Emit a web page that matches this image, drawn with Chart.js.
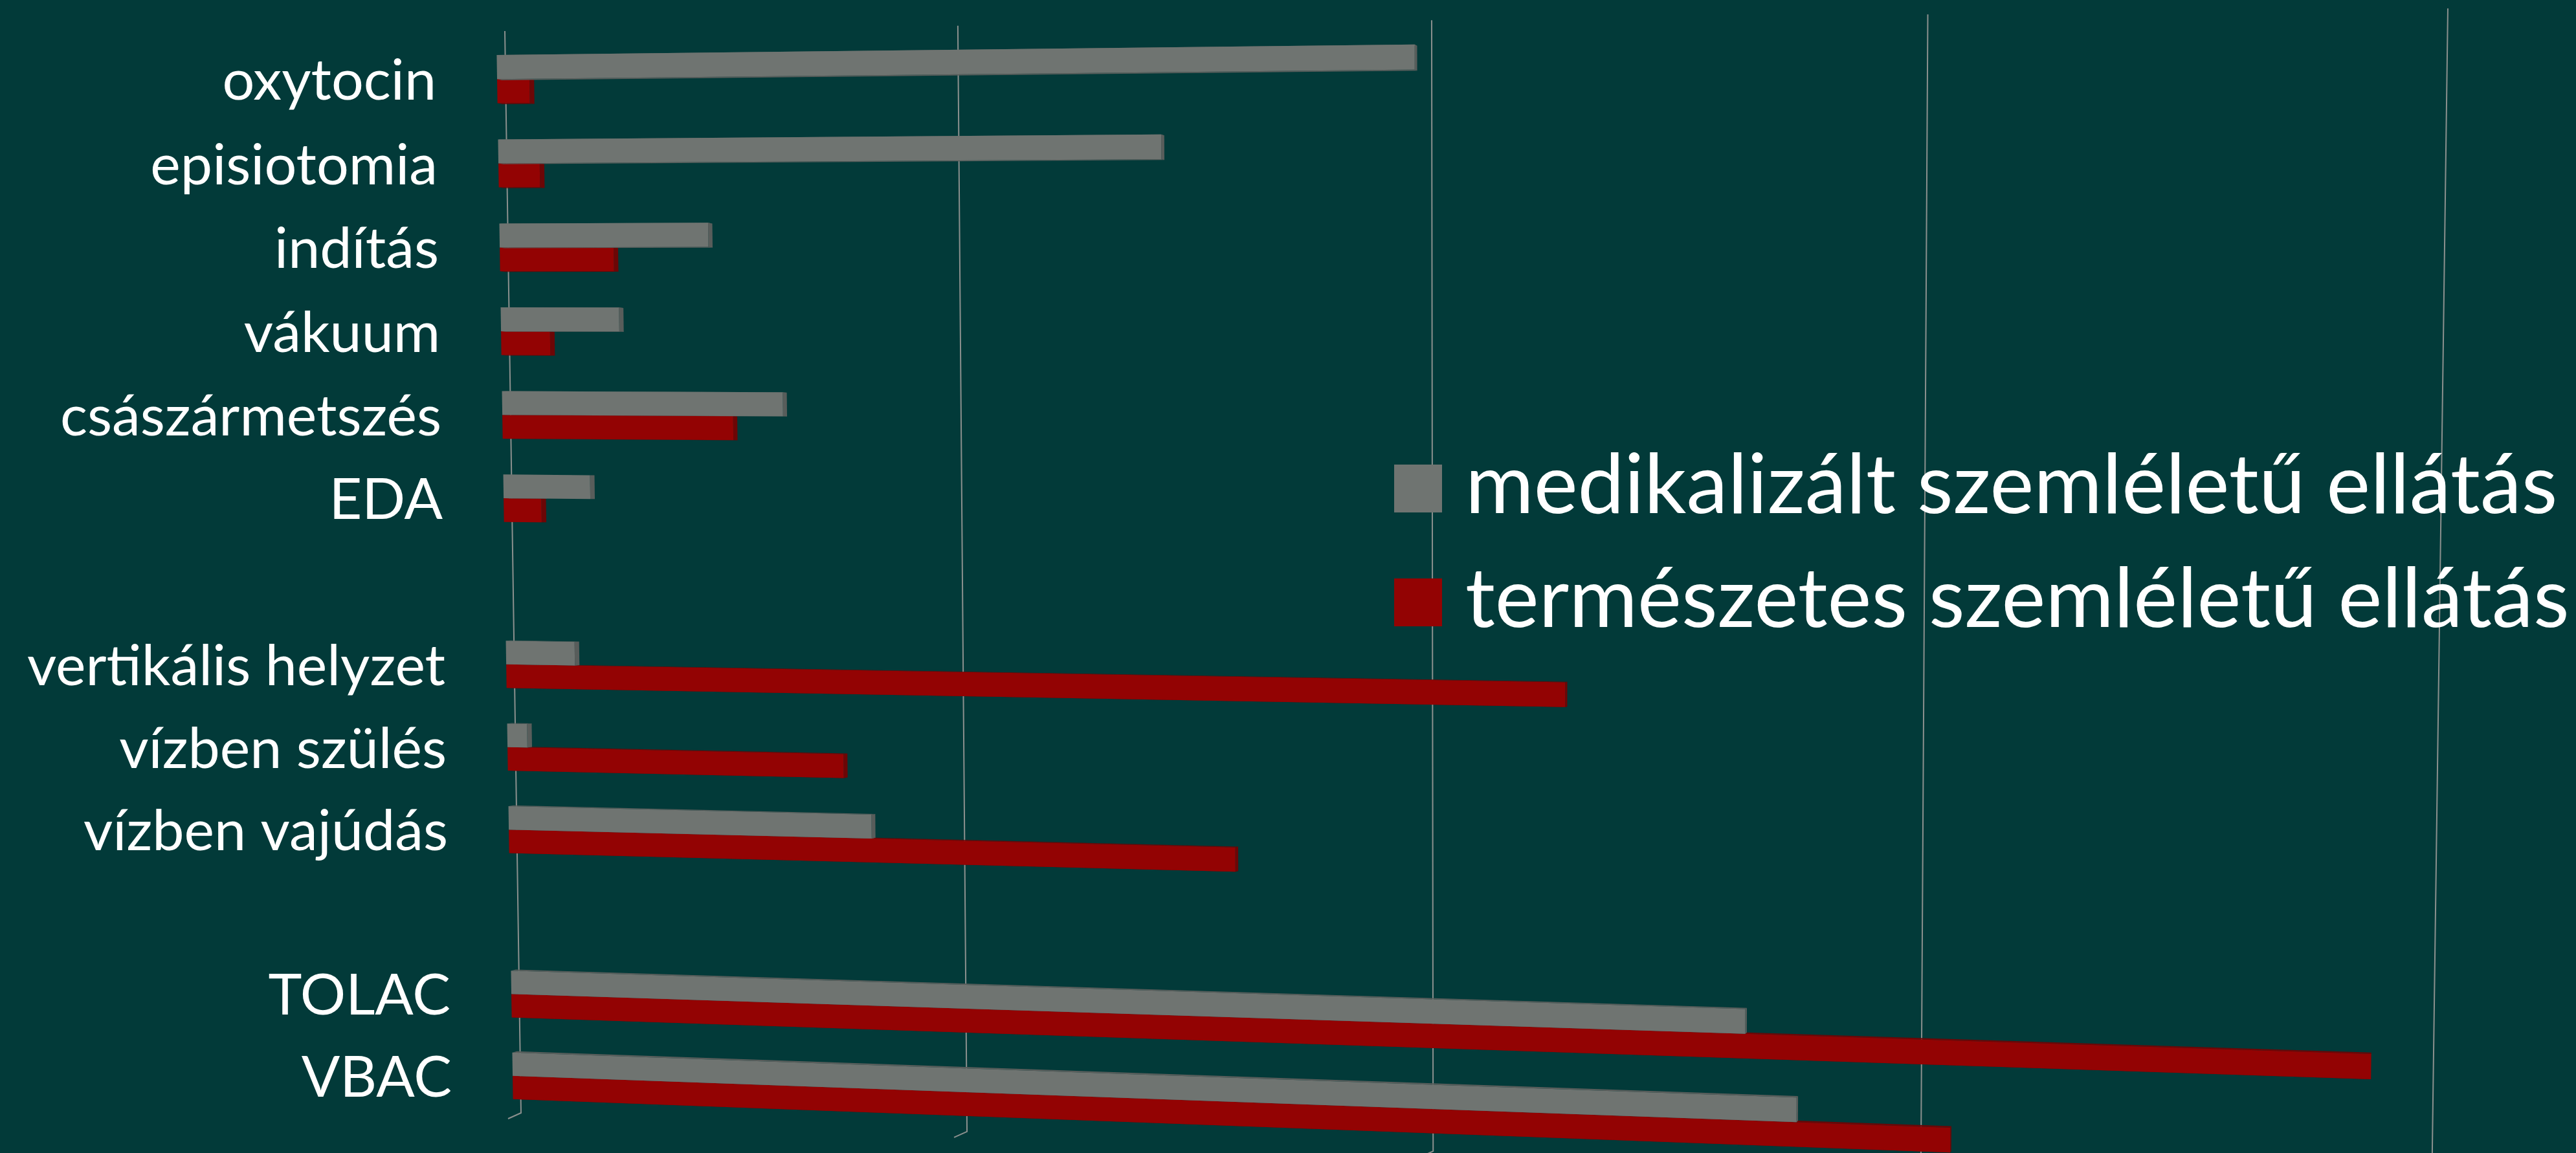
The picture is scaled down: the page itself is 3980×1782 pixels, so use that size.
<!DOCTYPE html>
<html lang="hu">
<head>
<meta charset="utf-8">
<title>Szemlélet és beavatkozások</title>
<script src="https://cdn.jsdelivr.net/npm/chart.js@4"></script>
<style>
    html, body { margin: 0; padding: 0; background: #023a39; overflow: hidden; }
    canvas { display: block; }
</style>
</head>
<body>
<canvas id="barChart" width="3980" height="1782"></canvas>
<script>
/*** Data ***/
const categories = ['oxytocin', 'episiotomia', 'indítás', 'vákuum', 'császármetszés', 'EDA', '',
    'vertikális helyzet', 'vízben szülés', 'vízben vajúdás', '', 'TOLAC', 'VBAC'];
const medikalizalt = [39.5, 28.9, 9.3, 5.3, 12.5, 3.9, null, 3.1, 0.9, 16.2, null, 53.1, 55.2];
const termeszetes = [1.45, 1.85, 5.1, 2.2, 10.3, 1.7, null, 45.7, 15, 31.9, null, 77.9, 61.4];
const seriesNames = ['medikalizált szemléletű ellátás', 'természetes szemléletű ellátás'];
const valueTicks = [0, 20, 40, 60, 80];

/*** Colors ***/
const grayColor = '#6f7471';
const grayDark = '#585d5b';
const redColor = '#930303';
const redDark = '#6c0606';
const gridColor = '#8b908e';
const fontFamily = "Lato, sans-serif";

// Maps the unit square onto a quad (perspective of the original 3D chart)
const quadMap = (p00, p10, p11, p01) => {
    const dx1 = p10[0] - p11[0], dx2 = p01[0] - p11[0], sx = p00[0] - p10[0] + p11[0] - p01[0];
    const dy1 = p10[1] - p11[1], dy2 = p01[1] - p11[1], sy = p00[1] - p10[1] + p11[1] - p01[1];
    const det = dx1 * dy2 - dx2 * dy1;
    const g = (sx * dy2 - dx2 * sy) / det;
    const h = (dx1 * sy - sx * dy1) / det;
    const a = p10[0] - p00[0] + g * p10[0], b = p01[0] - p00[0] + h * p01[0];
    const d = p10[1] - p00[1] + g * p10[1], e = p01[1] - p00[1] + h * p01[1];
    return (u, v) => {
        const w = g * u + h * v + 1;
        return [(a * u + b * v + p00[0]) / w, (d * u + e * v + p00[1]) / w];
    };
};

const wallMap = quadMap([780, 48], [3782, 13], [3757, 1844], [805, 1720]);
const barMap = quadMap([767, 57], [3772, 20], [3745, 1838], [793, 1726]);

// Small extrusion of the bars toward a vanishing point
const depthOf = (p) => [p[0] + (3700 - p[0]) * 0.0025, p[1] + (800 - p[1]) * 0.0025];

const fillQuad = (ctx, pts, color) => {
    ctx.fillStyle = color;
    ctx.beginPath();
    pts.forEach((p, i) => i ? ctx.lineTo(p[0], p[1]) : ctx.moveTo(p[0], p[1]));
    ctx.closePath();
    ctx.fill();
};

const drawText = (ctx, text, x, y, size, align) => {
    ctx.font = `${size}px ${fontFamily}`;
    ctx.fillStyle = '#ffffff';
    ctx.textBaseline = 'alphabetic';
    ctx.textAlign = align;
    ctx.fillText(text, x, y);
};

const perspectivePlugin = {
    id: 'perspective',
    beforeDatasetsDraw(chart) {
        const { ctx, chartArea: area, scales } = chart;
        const toU = (px) => (px - area.left) / (area.right - area.left);
        ctx.save();
        ctx.strokeStyle = gridColor;
        ctx.lineWidth = 2;
        scales.x.ticks.forEach((tick) => {
            const u = toU(scales.x.getPixelForValue(tick.value));
            const top = wallMap(u, 0);
            const bottom = wallMap(u, 1);
            ctx.beginPath();
            ctx.moveTo(top[0], top[1]);
            ctx.lineTo(bottom[0], bottom[1]);
            ctx.lineTo(bottom[0] - 20, bottom[1] + 9);
            ctx.stroke();
        });
        ctx.restore();
    },
    beforeDatasetDraw(chart, args) {
        const { ctx, chartArea: area } = chart;
        const toPlane = (px, py) => barMap((px - area.left) / (area.right - area.left), (py - area.top) / (area.bottom - area.top));
        const dark = args.index === 0 ? grayDark : redDark;
        const front = args.index === 0 ? grayColor : redColor;
        const values = chart.data.datasets[args.index].data;
        args.meta.data.forEach((bar, i) => {
            if (values[i] === null) return;
            const { x, y, base, height } = bar.getProps(['x', 'y', 'base', 'height'], true);
            const tl = toPlane(base, y - height / 2);
            const tr = toPlane(x, y - height / 2);
            const br = toPlane(x, y + height / 2);
            const bl = toPlane(base, y + height / 2);
            fillQuad(ctx, [tr, br, depthOf(br), depthOf(tr)], dark);
            fillQuad(ctx, [tl, tr, depthOf(tr), depthOf(tl)], dark);
            fillQuad(ctx, [bl, br, depthOf(br), depthOf(bl)], dark);
            fillQuad(ctx, [tl, tr, br, bl], front);
        });
        return false;
    },
    afterDraw(chart) {
        const { ctx, chartArea: area, scales } = chart;
        // Category labels
        categories.forEach((label, i) => {
            if (!label) return;
            const py = scales.y.getPixelForValue(i);
            const p = barMap(0, (py - area.top) / (area.bottom - area.top));
            drawText(ctx, label, p[0] - 94, p[1] + 32, 88, 'right');
        });
        // Legend
        const legendY = [718, 894];
        chart.data.datasets.forEach((ds, i) => {
            ctx.fillStyle = ds.backgroundColor;
            ctx.fillRect(2154, legendY[i], 74, 74);
            drawText(ctx, ds.label, 2264, legendY[i] + 75, 128.5, 'left');
        });
    },
};

new Chart(document.getElementById('barChart').getContext('2d'), {
    type: 'bar',
    data: {
        labels: categories,
        datasets: [
            { label: seriesNames[0], data: medikalizalt, backgroundColor: grayColor },
            { label: seriesNames[1], data: termeszetes, backgroundColor: redColor },
        ],
    },
    options: {
        indexAxis: 'y',
        responsive: false,
        animation: false,
        layout: { padding: { left: 790, right: 210, top: 40, bottom: 2 } },
        categoryPercentage: 0.57,
        barPercentage: 1,
        plugins: { legend: { display: false }, tooltip: { enabled: false } },
        scales: {
            x: {
                min: valueTicks[0],
                max: valueTicks[valueTicks.length - 1],
                ticks: { display: false, stepSize: 20 },
                grid: { display: false },
                border: { display: false },
            },
            y: {
                ticks: { display: false },
                grid: { display: false },
                border: { display: false },
            },
        },
    },
    plugins: [perspectivePlugin],
});
</script>
</body>
</html>
